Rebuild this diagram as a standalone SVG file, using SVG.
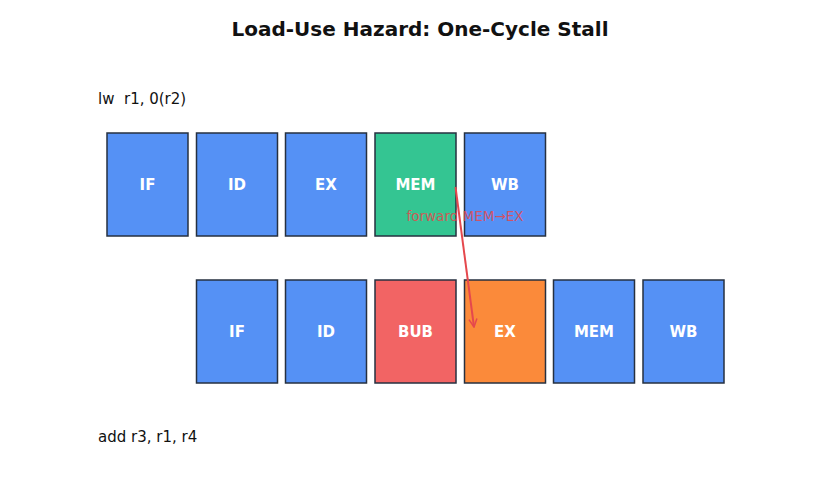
<svg xmlns="http://www.w3.org/2000/svg" width="840" height="504" viewBox="0 0 840 504">
<defs>
<style>
.box{stroke:#263040;stroke-width:1.5}
.blue{fill:#5591f5}
.green{fill:#34c592}
.red{fill:#f26464}
.orange{fill:#fb8a3a}
.lbl{font-family:"DejaVu Sans",sans-serif;font-weight:bold;font-size:15px;fill:#ffffff;text-anchor:middle}
.instr{font-family:"DejaVu Sans",sans-serif;font-size:15px;fill:#111111;white-space:pre}
</style>
<marker id="ah" viewBox="0 0 10 10" refX="9" refY="5" markerWidth="10" markerHeight="10" markerUnits="userSpaceOnUse" orient="auto">
<path d="M1,1 L9,5 L1,9" fill="none" stroke="#e5484d" stroke-width="1.5"/>
</marker>
</defs>
<rect width="840" height="504" fill="#ffffff"/>
<text x="420" y="36" font-family="DejaVu Sans,sans-serif" font-weight="bold" font-size="20" text-anchor="middle" fill="#111111">Load-Use Hazard: One-Cycle Stall</text>
<text class="instr" x="98" y="104" xml:space="preserve">lw  r1, 0(r2)</text>
<text class="instr" x="98" y="442">add r3, r1, r4</text>
<g id="r1-IF"><rect class="box blue" x="107" y="133" width="81" height="103"/><text class="lbl" x="147.5" y="189.5">IF</text></g>
<g id="r1-ID"><rect class="box blue" x="196.5" y="133" width="81" height="103"/><text class="lbl" x="237" y="189.5">ID</text></g>
<g id="r1-EX"><rect class="box blue" x="285.5" y="133" width="81" height="103"/><text class="lbl" x="326" y="189.5">EX</text></g>
<g id="r1-MEM"><rect class="box green" x="375" y="133" width="81" height="103"/><text class="lbl" x="415.5" y="189.5">MEM</text></g>
<g id="r1-WB"><rect class="box blue" x="464.5" y="133" width="81" height="103"/><text class="lbl" x="505" y="189.5">WB</text></g>
<g id="r2-IF"><rect class="box blue" x="196.5" y="280" width="81" height="103"/><text class="lbl" x="237" y="336.5">IF</text></g>
<g id="r2-ID"><rect class="box blue" x="285.5" y="280" width="81" height="103"/><text class="lbl" x="326" y="336.5">ID</text></g>
<g id="r2-BUB"><rect class="box red" x="375" y="280" width="81" height="103"/><text class="lbl" x="415.5" y="336.5">BUB</text></g>
<g id="r2-EX"><rect class="box orange" x="464.5" y="280" width="81" height="103"/><text class="lbl" x="505" y="336.5">EX</text></g>
<g id="r2-MEM"><rect class="box blue" x="553.5" y="280" width="81" height="103"/><text class="lbl" x="594" y="336.5">MEM</text></g>
<g id="r2-WB"><rect class="box blue" x="643" y="280" width="81" height="103"/><text class="lbl" x="683.5" y="336.5">WB</text></g>
<g id="connectors">
<line x1="455.5" y1="187" x2="474" y2="327" stroke="#e5484d" stroke-width="2" marker-end="url(#ah)"/>
<text x="465" y="221" font-family="DejaVu Sans,sans-serif" font-size="13.5" text-anchor="middle" fill="#e5484d" fill-opacity="0.85">forward MEM→EX</text>
</g>
</svg>
